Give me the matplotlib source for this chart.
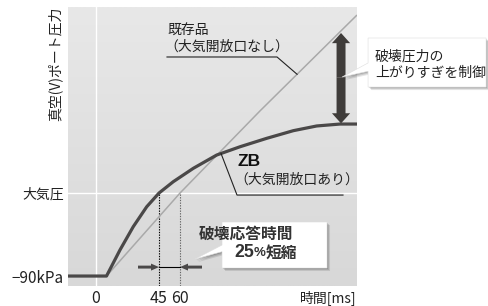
import numpy as np
import matplotlib
matplotlib.use("Agg")
import matplotlib.pyplot as plt
from matplotlib.patches import Polygon, FancyArrow

plt.rcParams['font.family'] = ['Noto Sans CJK JP', 'DejaVu Sans']

# ---- data (schematic) ----
zb_t = [-20, 7.5, 17.1, 26.6, 36.2, 45, 55.2, 69.5, 86.2, 102.9, 121.9, 140.9, 157.6, 174.3, 186.4]
zb_p = [-90, -90, -61.8, -36.5, -14.9, 0, 12.3, 26.8, 41.2, 50.2, 59.3, 67.6, 72.7, 74.8, 74.8]
old_t = [-20, 7.5, 60, 117.1, 186.4]
old_p = [-90, -90, 0, 89, 193]
xticks = [0, 45, 60]
xticklabels = ['0', '45', '60']
yticks = [-90, 0]
yticklabels = ['−90kPa', '大気圧']
t_zb, t_old = 45, 60

W, H = 489, 306
fig = plt.figure(figsize=(W/100, H/100), dpi=100)
fig.patch.set_facecolor('white')
ax = fig.add_axes([68/W, 1-286/H, 289/W, 279/H])
xlim = (-20, 186.4)
ylim = (-100.8, 201.7)
ax.set_xlim(*xlim)
ax.set_ylim(*ylim)

# gradient background
grad = np.linspace(0, 1, 256).reshape(-1, 1)
ax.imshow(grad, extent=[0, 1, 0, 1], transform=ax.transAxes, aspect='auto',
          cmap=matplotlib.colors.LinearSegmentedColormap.from_list('g', ['#d8d8d8', '#e8e8e8']),
          origin='lower', zorder=0)
for s in ax.spines.values():
    s.set_visible(False)

# white grid lines
ax.axvline(0, color='white', lw=1.0, zorder=1)
ax.axhline(0, color='white', lw=1.0, zorder=1)

# curves
ax.plot(old_t, old_p, color='#a9a9a9', lw=1.1, zorder=3, solid_capstyle='butt')
ax.plot(zb_t, zb_p, color='#4a4848', lw=2.3, zorder=4, solid_joinstyle='round')

# dotted verticals
ax.plot([t_zb, t_zb], [ylim[0], 0], color='black', lw=0.8, ls=(0, (1.2, 1.2)), zorder=2)
ax.plot([t_old, t_old], [ylim[0], 0], color='#666666', lw=0.8, ls=(0, (1.2, 1.2)), zorder=2)

# ticks
ax.set_xticks(xticks)
ax.set_xticklabels(xticklabels, fontsize=11.5, color='#222222')
ax.set_yticks(yticks)
ax.set_yticklabels(yticklabels, color='#222222')
for lab in ax.get_yticklabels():
    lab.set_fontsize(11 if 'k' in lab.get_text() else 10)
ax.tick_params(length=0, pad=3)

fig.text(55/W, 1-7/H, '真空(V)ポート圧力', rotation=90, va='top', ha='center',
         fontsize=10, color='#222222')
fig.text(357/W, 1-298/H, '時間[ms]', ha='right', va='center', fontsize=10, color='#222222')

# big double arrow
ac = '#3f3c3a'
ax.add_patch(FancyArrow(175, 125, 0, 173.5-125, width=6.4, head_width=13, head_length=11,
                        length_includes_head=True, color=ac, lw=0, zorder=5))
ax.add_patch(FancyArrow(175, 125, 0, 75.5-125, width=6.4, head_width=13, head_length=11,
                        length_includes_head=True, color=ac, lw=0, zorder=5))

# small arrows
ya = -80.3
ax.add_patch(FancyArrow(30, ya, t_zb-30, 0, width=3.2, head_width=7.6, head_length=5.7,
                        length_includes_head=True, color='#4a4848', lw=0, zorder=5))
ax.add_patch(FancyArrow(75.7, ya, t_old-75.7, 0, width=3.2, head_width=7.6, head_length=5.7,
                        length_includes_head=True, color='#4a4848', lw=0, zorder=5))
ax.plot([t_zb, t_old], [ya, ya], color='black', lw=0.8, zorder=5)

# annotation: existing product
tc = '#222222'
fs = 10
ax.text(50.7, 175.7, '既存品', fontsize=fs, color=tc, va='center', ha='left', zorder=6)
ax.text(49.0, 158.3, '（大気開放口なし）', fontsize=fs, color=tc, va='center', ha='left', zorder=6)
lx = 143.6
ax.plot([50.7, 129.3, lx], [147.5, 147.5, np.interp(lx, old_t, old_p)], color='#222222',
        lw=0.8, zorder=6)

# annotation: ZB
ax.text(100.7, 34.7, 'ZB', fontsize=12.5, fontweight='bold', family='Liberation Sans',
        color='#111111', va='center', ha='left', zorder=6)
ax.text(98.8, 14.1, '（大気開放口あり）', fontsize=fs, color=tc, va='center', ha='left', zorder=6)
cx = 89.3
ax.plot([cx, 100.7, 176.4], [np.interp(cx, zb_t, zb_p), -2.2, -2.2], color='#222222',
        lw=0.8, zorder=6)


def callout(xs, ys, z=7):
    pts = np.column_stack([xs, ys])
    for k, a in [(3.0, 0.10), (2.0, 0.12), (1.0, 0.14)]:
        sh = pts + np.array([k/1.4, -k/0.9222])
        ax.add_patch(Polygon(sh, closed=True, facecolor='black', alpha=a, lw=0,
                             zorder=z, clip_on=False))
    ax.add_patch(Polygon(pts, closed=True, facecolor='white', edgecolor='#dddddd', lw=0.4,
                         zorder=z+0.5, clip_on=False))


# callout 1
L, R, T, B = 194.3, 278.6, 168.1, 114.9
callout([L, L, 175.7, L, L, R, R], [T, 141, 125.8, 132, B, B, T])
ax.text(199.3, 147.5, '破壊圧力の', fontsize=fs, color=tc, va='center', ha='left',
        zorder=9, clip_on=False)
ax.text(199.3, 130, '上がりすぎを制御', fontsize=fs, color=tc, va='center', ha='left',
        zorder=9, clip_on=False)

# callout 2
L, R, T, B = 90, 165, -31.4, -81.3
callout([L, L, 70.7, L, L, R, R], [T, -56.4, -71.6, -63.6, B, B, T])
ax.text(106.8, -44.5, '破壊応答時間', fontsize=11.3, fontweight='bold', color='#333333',
        va='center', ha='center', zorder=9)
t1 = ax.text(98.5, -64.5, '25', fontsize=12.8, fontweight='bold', color='#333333',
             va='center', ha='left', zorder=9, family='Liberation Sans')
fig.canvas.draw()
r = fig.canvas.get_renderer()
inv = ax.transData.inverted()
x2 = inv.transform((t1.get_window_extent(r).x1, 0))[0]
t2 = ax.text(x2, -65.5, '%', fontsize=9.5, fontweight='bold', color='#333333',
             va='center', ha='left', zorder=9, family='Liberation Sans')
x3 = inv.transform((t2.get_window_extent(r).x1, 0))[0]
ax.text(x3, -64.5, '短縮', fontsize=11.3, fontweight='bold', color='#333333',
        va='center', ha='left', zorder=9)

fig.savefig('out.png', dpi=100, facecolor='white')
